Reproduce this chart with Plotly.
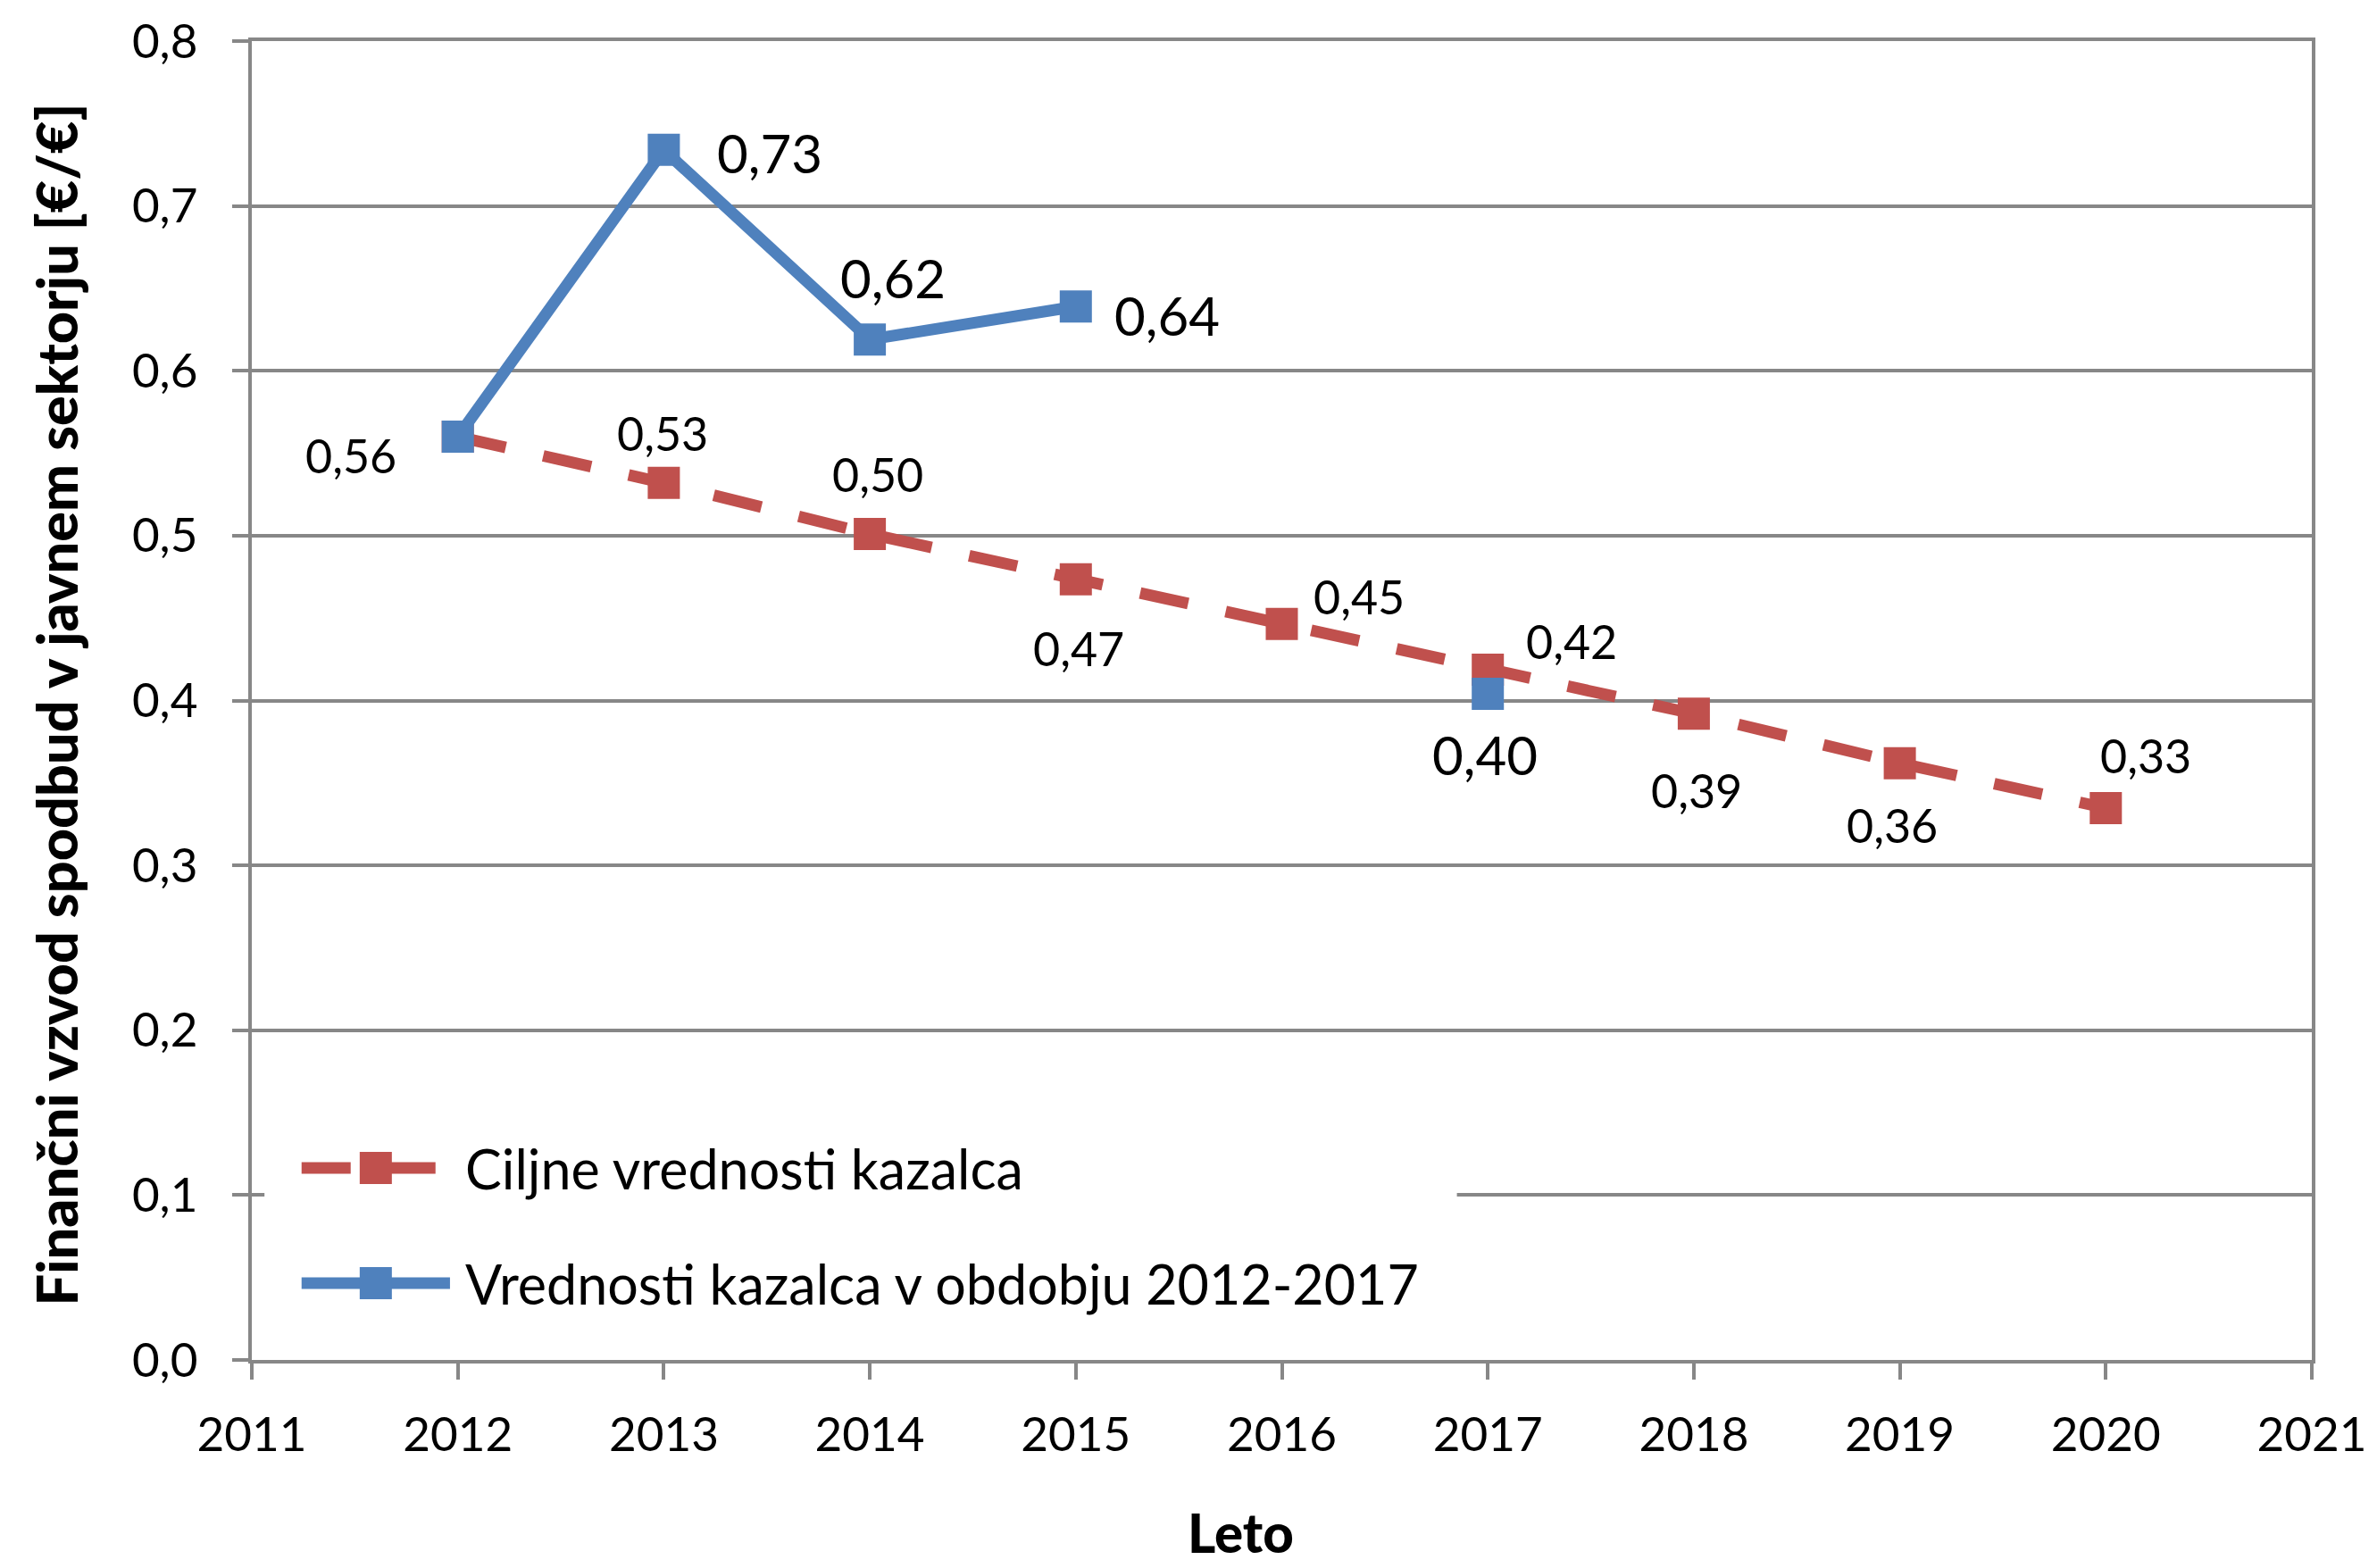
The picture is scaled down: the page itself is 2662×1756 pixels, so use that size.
import plotly.graph_objects as go

# ---------------- data ----------------
target_years = [2012, 2013, 2014, 2015, 2016, 2017, 2018, 2019, 2020]
target_values = [0.560, 0.532, 0.501, 0.4735, 0.4464, 0.4187, 0.392, 0.362, 0.3348]

actual_years = [2012, 2013, 2014, 2015, 2016, 2017]
actual_values = [0.560, 0.734, 0.619, 0.639, None, 0.404]

target_name = "Ciljne vrednosti kazalca"
actual_name = "Vrednosti kazalca v obdobju 2012-2017"

x_tick_values = [2011, 2012, 2013, 2014, 2015, 2016, 2017, 2018, 2019, 2020, 2021]
y_tick_values = [0.0, 0.1, 0.2, 0.3, 0.4, 0.5, 0.6, 0.7, 0.8]

y_title = "Finančni vzvod spodbud v javnem sektorju [€/€]"
x_title = "Leto"

# ---------------- styling / positions ----------------
RED = "#C0504D"
BLUE = "#4F81BD"
GRID = "#878787"
FONT = "Lato"
W, H = 2662, 1756
ML, MR, MT, MB = 282, 62, 46, 233
PW = W - ML - MR
PH = H - MT - MB

# label offsets in px (dx, dy), dy positive = up
target_label_offsets = [(-120, -21), (-1, 56), (9, 67), (3, -77), (86, 31),
                        (94, 32), (3, -86), (-9, -69), (45, 59)]
actual_label_offsets = [None, (119, -3), (26, 69), (102, -10), None, (-3, -68)]


def fmt(v):
    return f"{v:.2f}".replace(".", ",")


fig = go.Figure()

fig.add_trace(go.Scatter(
    x=target_years, y=target_values, name=target_name, mode="lines+markers",
    line=dict(color=RED, width=13, dash="55px,43px"),
    marker=dict(symbol="square", size=36, color=RED, opacity=1, line=dict(width=0)),
    showlegend=False, cliponaxis=False,
))
fig.add_trace(go.Scatter(
    x=actual_years, y=actual_values, name=actual_name, mode="lines+markers",
    line=dict(color=BLUE, width=13), connectgaps=False,
    marker=dict(symbol="square", size=36, color=BLUE, opacity=1, line=dict(width=0)),
    showlegend=False, cliponaxis=False,
))

# custom legend drawn in a small invisible subplot
legend_x = [0, 1, 2]
fig.add_trace(go.Scatter(
    x=legend_x, y=[1, 1, 1], xaxis="x2", yaxis="y2", mode="lines+markers",
    line=dict(color=RED, width=13, dash="55px,40px"),
    marker=dict(symbol="square", size=[0, 36, 0], color=RED, opacity=1, line=dict(width=0)),
    showlegend=False, hoverinfo="skip", cliponaxis=False,
))
fig.add_trace(go.Scatter(
    x=legend_x, y=[0, 0, 0], xaxis="x2", yaxis="y2", mode="lines+markers",
    line=dict(color=BLUE, width=13),
    marker=dict(symbol="square", size=[0, 36, 0], color=BLUE, opacity=1, line=dict(width=0)),
    showlegend=False, hoverinfo="skip", cliponaxis=False,
))

annotations = []
for x, v, off in zip(target_years, target_values, target_label_offsets):
    annotations.append(dict(x=x, y=v, xref="x", yref="y", text=fmt(v), showarrow=False,
                            xshift=off[0], yshift=off[1],
                            font=dict(family=FONT, size=52, color="black")))
for x, v, off in zip(actual_years, actual_values, actual_label_offsets):
    if v is None or off is None:
        continue
    annotations.append(dict(x=x, y=v, xref="x", yref="y", text=fmt(v), showarrow=False,
                            xshift=off[0], yshift=off[1],
                            font=dict(family=FONT, size=60, color="black")))

# legend texts
legend_text_x = (520 - ML) / PW
annotations.append(dict(x=legend_text_x, y=1, xref="paper", yref="y2", text=target_name,
                        showarrow=False, xanchor="left", yanchor="middle",
                        font=dict(family=FONT, size=61, color="black")))
annotations.append(dict(x=legend_text_x, y=0, xref="paper", yref="y2", text=actual_name,
                        showarrow=False, xanchor="left", yanchor="middle",
                        font=dict(family=FONT, size=61, color="black")))

# axis titles
annotations.append(dict(x=0, y=0.5, xref="paper", yref="paper", text=y_title,
                        showarrow=False, textangle=-90, xanchor="center", yanchor="middle",
                        xshift=62 - ML, yshift=-5,
                        font=dict(family=FONT, size=63, color="black", weight=900)))
annotations.append(dict(x=(1395 - ML) / PW, y=0, xref="paper", yref="paper",
                        text=x_title, showarrow=False,
                        xanchor="center", yanchor="bottom", yshift=-(H - 2 - (H - MB)),
                        font=dict(family=FONT, size=60, color="black", weight=900)))

# legend subplot geometry (px -> paper)
lx0, lx1 = 296.25, 546.75
ly_top, ly_bot = 1243.5, 1501.5
x2_domain = [(lx0 - ML) / PW, (lx1 - ML) / PW]
y2_domain = [(H - MB - ly_bot) / PH, (H - MB - ly_top) / PH]

fig.update_layout(
    width=W, height=H,
    margin=dict(l=ML, r=MR, t=MT, b=MB, pad=0),
    paper_bgcolor="white", plot_bgcolor="white",
    separators=", ",
    showlegend=False,
    font=dict(family=FONT, size=53, color="black"),
    xaxis=dict(
        range=[2011, 2021], tickvals=x_tick_values, ticktext=[str(t) for t in x_tick_values],
        showgrid=False, zeroline=False,
        showline=True, linecolor=GRID, linewidth=4, mirror=True,
        ticks="outside", ticklen=18, tickwidth=4, tickcolor=GRID,
        tickfont=dict(family=FONT, size=53, color="black"),
        ticklabelstandoff=16, fixedrange=True,
    ),
    yaxis=dict(
        range=[0, 0.8], tickvals=y_tick_values, tickformat=".1f",
        showgrid=True, gridcolor=GRID, gridwidth=4, zeroline=False,
        showline=True, linecolor=GRID, linewidth=4, mirror=True,
        ticks="outside", ticklen=18, tickwidth=4, tickcolor=GRID,
        tickfont=dict(family=FONT, size=53, color="black"),
        ticklabelstandoff=28, fixedrange=True,
    ),
    xaxis2=dict(domain=x2_domain, range=[-0.5, 2.5], anchor="y2", visible=False, fixedrange=True),
    yaxis2=dict(domain=y2_domain, range=[-0.5, 1.5], anchor="x2", visible=False, fixedrange=True),
    annotations=annotations,
    shapes=[dict(type="rect", xref="x", yref="y", x0=2011.09, x1=2016.85, y0=0.012, y1=0.152,
                 fillcolor="white", line=dict(width=0), layer="between")],
)

fig.write_html("out.html", config={"displayModeBar": False, "staticPlot": True},
               post_script="document.body.style.margin='0';document.body.style.overflow='hidden';")
